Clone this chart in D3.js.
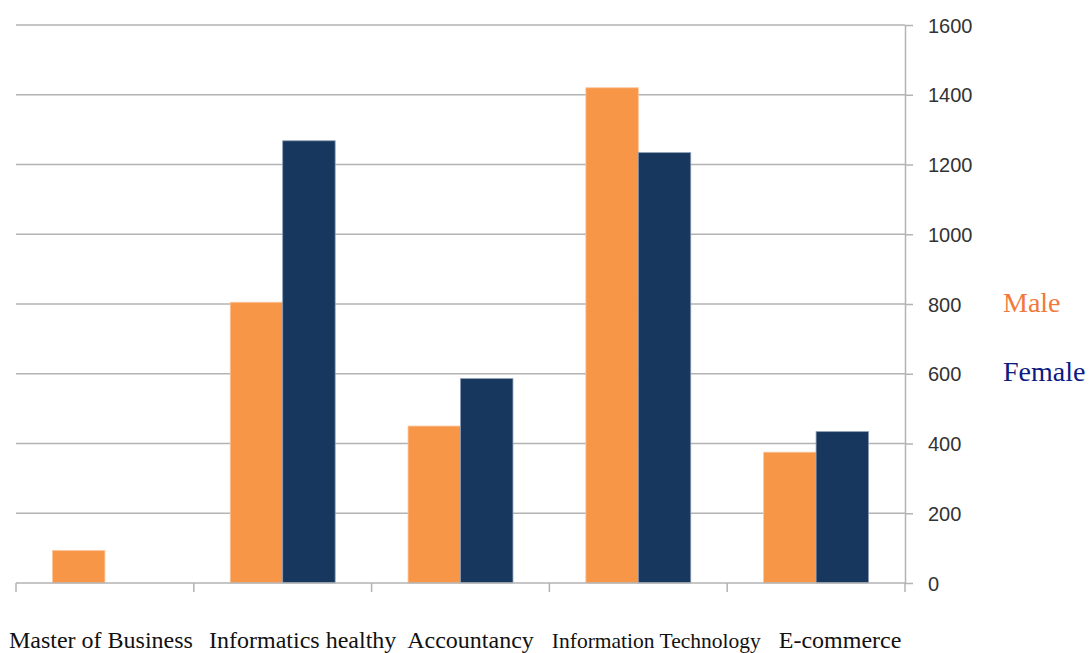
<!DOCTYPE html>
<html lang="en">
<head>
    <meta charset="UTF-8">
    <title>Male / Female by programme</title>
    <script src="https://d3js.org/d3.v7.min.js"></script>
    <style>
        body { margin: 0; background: #fff; }
        .grid line { stroke: #b3b3b3; stroke-width: 1.5; }
        .axis path, .axis line { stroke: #b3b3b3; stroke-width: 1.5; }
        .axis text { font-family: "Liberation Sans", Arial, sans-serif; font-size: 20px; fill: #333; }
        .cat { font-family: "Liberation Serif", "Times New Roman", serif; fill: #111; }
        .legend { font-family: "Liberation Serif", "Times New Roman", serif; font-size: 28px; }
    </style>
</head>
<body>
<script>
    const categories = ["Master of Business", "Informatics healthy", "Accountancy", "Information Technology", "E-commerce"];
    const male   = [93, 805, 450, 1420, 375];
    const female = [0, 1268, 586, 1234, 434];
    const yTicks = [0, 200, 400, 600, 800, 1000, 1200, 1400, 1600];
    const seriesNames = ["Male", "Female"];

    const width  = 1092;
    const height = 653;
    const plotLeft = 16, plotRight = 905, plotTop = 25, plotBottom = 583;

    const colors = {Male: "#f79646", Female: "#17375e"};
    const legendColors = {Male: "#f07a3c", Female: "#0d1a82"};

    const svg = d3.select("body").append("svg").attr("width", width).attr("height", height);

    const x0 = d3.scaleBand().domain(categories).range([plotLeft, plotRight])
                 .paddingInner(0.41).paddingOuter(0.205);
    const x1 = d3.scaleBand().domain(seriesNames).range([0, x0.bandwidth()]);
    const y  = d3.scaleLinear().domain([0, 1600]).range([plotBottom, plotTop]);

    // horizontal gridlines
    svg.append("g").attr("class", "grid")
       .selectAll("line").data(yTicks.filter(d => d > 0))
       .join("line")
       .attr("x1", plotLeft).attr("x2", plotRight)
       .attr("y1", d => y(d)).attr("y2", d => y(d));

    const rows = categories.map((c, i) => ({cat: c, Male: male[i], Female: female[i]}));

    const groups = svg.append("g").selectAll("g")
        .data(rows).join("g")
        .attr("transform", d => `translate(${x0(d.cat)},0)`);

    groups.selectAll("rect")
        .data(d => seriesNames.map(s => ({key: s, value: d[s]})).filter(e => e.value > 0))
        .join("rect")
        .attr("x", d => x1(d.key))
        .attr("width", x1.bandwidth())
        .attr("y", d => y(d.value))
        .attr("height", d => y(0) - y(d.value))
        .attr("fill", d => colors[d.key])
        .attr("stroke", d => d.key === "Male" ? "#fbc49c" : "#8a9bb3")
        .attr("stroke-width", 0.8);

    // bottom axis line with category separators
    const xAxis = svg.append("g").attr("class", "axis");
    xAxis.append("line")
         .attr("x1", plotLeft).attr("x2", plotRight)
         .attr("y1", plotBottom).attr("y2", plotBottom);
    const step = x0.step();
    xAxis.selectAll("line.sep")
         .data(d3.range(categories.length + 1))
         .join("line").attr("class", "sep")
         .attr("x1", i => plotLeft + i * step).attr("x2", i => plotLeft + i * step)
         .attr("y1", plotBottom).attr("y2", plotBottom + 9);

    // right value axis
    svg.append("g").attr("class", "axis")
       .attr("transform", `translate(${plotRight},0)`)
       .call(d3.axisRight(y).tickValues(yTicks).tickFormat(d3.format("d"))
               .tickSize(8).tickPadding(15).tickSizeOuter(0))
       .call(g => g.selectAll("text").attr("dy", "0.36em"));

    // category labels (sit in one row, not exactly centred on bands)
    const labelShift = [-4, 20, 10, 18, 24];
    const labelSize  = [24, 24, 24, 21.5, 24];
    svg.append("g").selectAll("text")
       .data(categories).join("text")
       .attr("class", "cat")
       .attr("x", (d, i) => x0(d) + x0.bandwidth() / 2 + labelShift[i])
       .attr("y", 648)
       .attr("text-anchor", "middle")
       .style("font-size", (d, i) => labelSize[i] + "px")
       .text(d => d);

    // legend
    svg.append("g").selectAll("text")
       .data(seriesNames).join("text")
       .attr("class", "legend")
       .attr("x", 1003)
       .attr("y", (d, i) => y(800) + 8 + i * 69)
       .attr("fill", d => legendColors[d])
       .text(d => d);
</script>
</body>
</html>
